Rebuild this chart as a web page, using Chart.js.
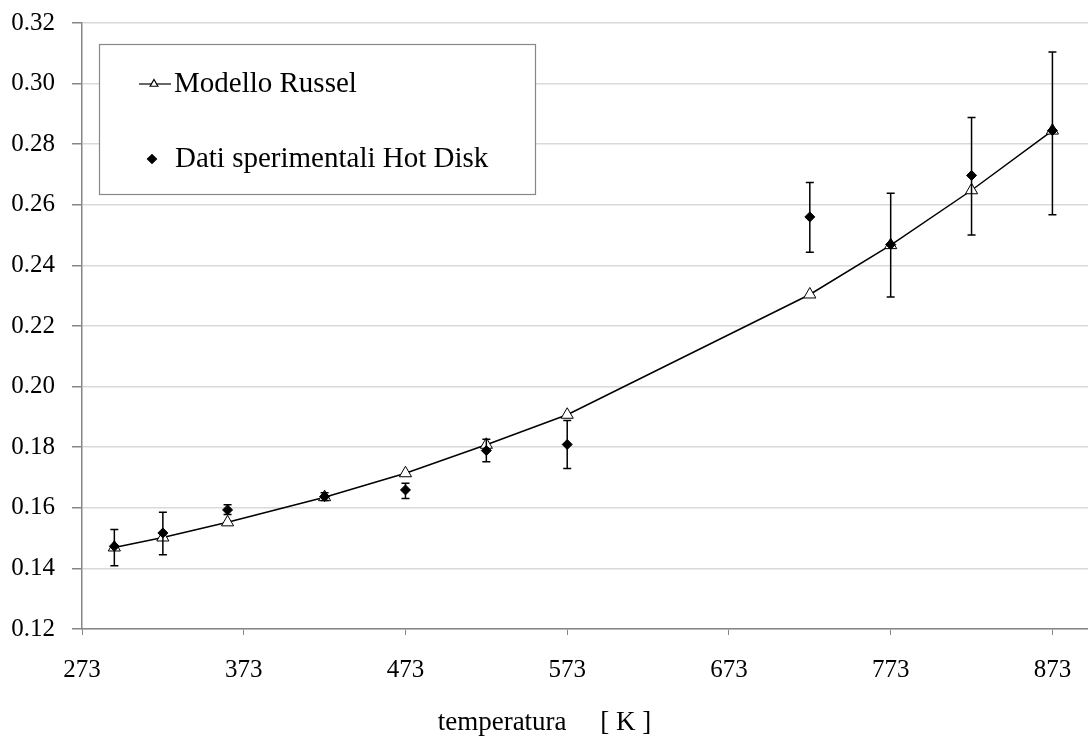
<!DOCTYPE html>
<html>
<head>
<meta charset="utf-8">
<script src="https://cdn.jsdelivr.net/npm/chart.js@4/dist/chart.umd.min.js"></script>
<style>
  body { margin: 0; background: #fff; }
  canvas { display: block; }
</style>
</head>
<body>
<canvas id="conductivityChart" width="1088" height="739"></canvas>
<script>
var temperature = [293, 323, 363, 423, 473, 523, 573, 723, 773, 823, 873]
var modelloRussel = [0.1469, 0.1502, 0.1552, 0.1635, 0.1714, 0.1808, 0.1907, 0.2304, 0.2467, 0.2648, 0.2845]
var hotDisk = [0.1473, 0.1517, 0.1593, 0.1637, 0.1659, 0.1789, 0.1809, 0.2560, 0.2469, 0.2697, 0.2845]
var hotDiskLow = [0.1409, 0.1445, 0.1578, 0.1624, 0.1631, 0.1752, 0.1730, 0.2443, 0.2296, 0.2500, 0.2567]
var hotDiskHigh = [0.1528, 0.1585, 0.1610, 0.1650, 0.1681, 0.1826, 0.1888, 0.2674, 0.2638, 0.2888, 0.3104]
var xTicks = [273, 373, 473, 573, 673, 773, 873]

var serif = "'Liberation Serif', 'Times New Roman', serif"
Chart.defaults.font.family = serif
Chart.defaults.color = '#000'

function points(ys) {
    return temperature.map(function (t, i) {
        return { x: t, y: ys[i] };
    });
}

// error bars of the Hot Disk measurements
var errorBars = {
    id: 'errorBars',
    afterDatasetsDraw: function (chart) {
        var ctx = chart.ctx
        var xs = chart.scales.x, ys = chart.scales.y
        ctx.save()
        ctx.strokeStyle = '#000'
        ctx.lineWidth = 1.5
        for (let i = 0; i < temperature.length; i++) {
            let px = xs.getPixelForValue(temperature[i])
            let lo = ys.getPixelForValue(hotDiskLow[i])
            let hi = ys.getPixelForValue(hotDiskHigh[i])
            ctx.beginPath()
            ctx.moveTo(px, lo); ctx.lineTo(px, hi)
            ctx.moveTo(px - 4, lo); ctx.lineTo(px + 4, lo)
            ctx.moveTo(px - 4, hi); ctx.lineTo(px + 4, hi)
            ctx.stroke()
        }
        ctx.restore()
    }
}

// boxed legend inside the plot, as in the original
var boxLegend = {
    id: 'boxLegend',
    beforeDatasetsDraw: function (chart) {
        var ctx = chart.ctx
        var a = chart.chartArea
        var left = a.left + 17, top = a.top + 21, w = 436, h = 150
        ctx.save()
        ctx.fillStyle = '#fff'
        ctx.fillRect(left, top, w, h)
        ctx.strokeStyle = '#888'
        ctx.lineWidth = 1.2
        ctx.strokeRect(left + 0.5, top + 0.5, w, h)

        var row1 = top + 40, row2 = top + 115
        ctx.strokeStyle = '#000'
        ctx.lineWidth = 1.2
        ctx.beginPath()
        ctx.moveTo(left + 40, row1); ctx.lineTo(left + 72, row1)
        ctx.stroke()
        ctx.fillStyle = '#fff'
        Chart.helpers.drawPoint(ctx, { pointStyle: 'triangle', radius: 4.5, borderWidth: 1 }, left + 55, row1)

        ctx.fillStyle = '#000'
        Chart.helpers.drawPoint(ctx, { pointStyle: 'rectRot', radius: 4.5, borderWidth: 1 }, left + 53, row2)

        ctx.font = '29px ' + serif
        ctx.textBaseline = 'middle'
        ctx.textAlign = 'left'
        ctx.fillStyle = '#000'
        ctx.fillText('Modello Russel', left + 75, row1)
        ctx.fillText('Dati sperimentali Hot Disk', left + 76, row2)
        ctx.restore()
    }
}

var chart = new Chart(document.getElementById('conductivityChart'), {
    type: 'scatter',
    data: {
        datasets: [{
            label: 'Modello Russel',
            data: points(modelloRussel),
            showLine: true,
            borderColor: '#000',
            borderWidth: 1.5,
            pointStyle: 'triangle',
            pointRadius: 7,
            pointBackgroundColor: '#fff',
            pointBorderColor: '#000',
            pointBorderWidth: 1,
            order: 2
        }, {
            label: 'Dati sperimentali Hot Disk',
            data: points(hotDisk),
            pointStyle: 'rectRot',
            pointRadius: 5,
            pointBackgroundColor: '#000',
            pointBorderColor: '#000',
            pointBorderWidth: 1,
            order: 1
        }]
    },
    options: {
        responsive: false,
        animation: false,
        devicePixelRatio: 1,
        layout: { autoPadding: false, padding: { top: 23, right: 0, left: 0, bottom: 0 } },
        plugins: {
            legend: { display: false },
            tooltip: { enabled: false }
        },
        scales: {
            x: {
                type: 'linear',
                min: 273,
                max: 895,
                afterBuildTicks: function (scale) {
                    scale.ticks = xTicks.map(function (v) { return { value: v }; })
                },
                afterFit: function (scale) {
                    scale.height = 110
                    scale.paddingLeft = 0
                    scale.paddingRight = 0
                },
                grid: { drawOnChartArea: false, tickLength: 6, tickColor: '#868686' },
                border: { color: '#868686', width: 1.5 },
                ticks: { font: { size: 25 }, padding: 20, maxRotation: 0, autoSkip: false },
                title: {
                    display: true,
                    text: 'temperatura     [ K ]' + '\u00a0'.repeat(12),
                    font: { size: 27 },
                    padding: { top: 0, bottom: 0 }
                }
            },
            y: {
                min: 0.12,
                max: 0.32,
                afterFit: function (scale) {
                    scale.width = 82
                    scale.paddingTop = 0
                    scale.paddingBottom = 0
                },
                grid: { color: '#d9d9d9', lineWidth: 1.5, tickLength: 10, tickColor: '#868686' },
                border: { color: '#868686', width: 1.5 },
                ticks: {
                    stepSize: 0.02,
                    font: { size: 25 },
                    padding: 17,
                    callback: function (v) { return v.toFixed(2) }
                }
            }
        }
    },
    plugins: [errorBars, boxLegend]
});
</script>
</body>
</html>
